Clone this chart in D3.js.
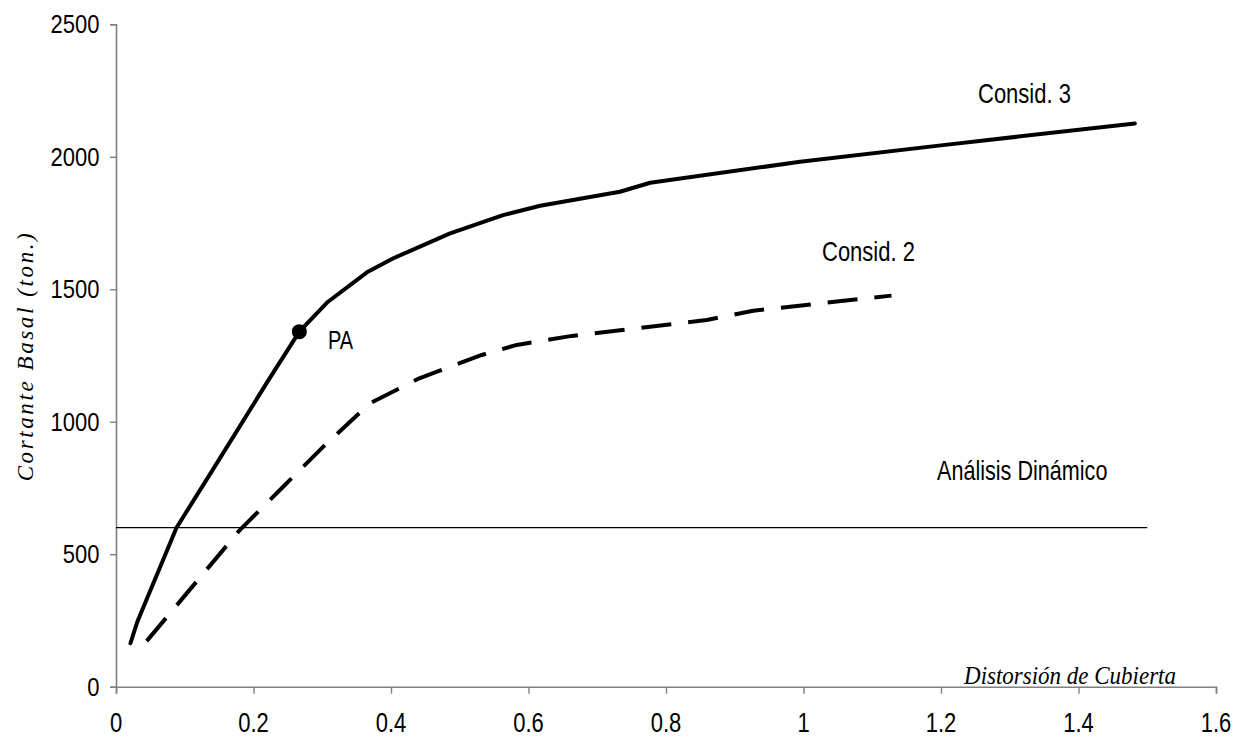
<!DOCTYPE html>
<html>
<head>
<meta charset="utf-8">
<script src="https://cdn.jsdelivr.net/npm/d3@7"></script>
<style>
  html, body { margin: 0; padding: 0; background: #fff; }
  svg { display: block; }
  .sans { font-family: "Liberation Sans", Arial, sans-serif; fill: #000; }
  .serif { font-family: "Liberation Serif", "Times New Roman", serif; font-style: italic; fill: #000; }
</style>
</head>
<body>
<svg id="chart" width="1235" height="740"></svg>
<script>
// Pushover curves: drift (x) vs base shear in tons (y)
const consid3X = [0.021, 0.031, 0.088, 0.142, 0.222, 0.2667, 0.308, 0.365, 0.4035, 0.486, 0.563, 0.617, 0.733, 0.777, 0.995, 1.203, 1.482];
const consid3Y = [164, 245, 600, 824, 1158, 1340, 1452, 1564, 1617, 1711, 1780, 1815, 1868, 1902, 1981, 2044, 2126];

const consid2X = [0.0446, 0.18, 0.241, 0.3016, 0.3695, 0.442, 0.532, 0.583, 0.663, 0.859, 0.927, 1.128];
const consid2Y = [172, 591, 749, 906, 1070, 1165, 1252, 1290, 1324, 1384, 1419, 1476];

// Dynamic analysis base shear level
const dynamicX = [0, 1.5];
const dynamicY = [600, 600];

// Performance point
const paX = [0.2667];
const paY = [1340];

const xTicks = [0, 0.2, 0.4, 0.6, 0.8, 1, 1.2, 1.4, 1.6];
const xTickLabels = ["0", "0.2", "0.4", "0.6", "0.8", "1", "1.2", "1.4", "1.6"];
const yTicks = [0, 500, 1000, 1500, 2000, 2500];
const yTickLabels = ["0", "500", "1000", "1500", "2000", "2500"];

const svg = d3.select("#chart");

const x = d3.scaleLinear().domain([0, 1.6]).range([116, 1216]);
const y = d3.scaleLinear().domain([0, 2500]).range([686.7, 24.3]);

const axisColor = "#808080";

// Axes
const xAxis = svg.append("g").attr("transform", `translate(0,${y(0)})`)
  .call(d3.axisBottom(x).tickValues(xTicks).tickSize(7).tickFormat(""));
const yAxis = svg.append("g").attr("transform", `translate(${x(0)},0)`)
  .call(d3.axisLeft(y).tickValues(yTicks).tickSize(6).tickFormat(""));
[xAxis, yAxis].forEach(g => {
  g.select(".domain").attr("stroke", axisColor).attr("stroke-width", 1.6);
  g.selectAll(".tick line").attr("stroke", axisColor).attr("stroke-width", 1.4);
});

// Text helper: glyphs are drawn slightly stretched vertically
function stretchedText(parent, px, py, str, opts) {
  const g = parent.append("g").attr("transform", `translate(${px},${py}) scale(1,${opts.sy || 1})`);
  return g.append("text")
    .attr("class", opts.cls || "sans")
    .attr("font-size", opts.size)
    .attr("text-anchor", opts.anchor || "start")
    .text(str);
}

xTicks.forEach((v, i) => {
  stretchedText(svg, x(v), 732, xTickLabels[i], { size: 22, sy: 1.22, anchor: "middle" });
});
yTicks.forEach((v, i) => {
  stretchedText(svg, 99.5, y(v) + 9, yTickLabels[i], { size: 22, sy: 1.15, anchor: "end" });
});

// Axis titles
svg.append("text")
  .attr("class", "serif")
  .attr("font-size", 23)
  .attr("letter-spacing", 2.6)
  .attr("text-anchor", "middle")
  .attr("transform", `translate(33,356) rotate(-90)`)
  .text("Cortante Basal (ton.)");

stretchedText(svg, 1176, 684, "Distorsión de Cubierta", { cls: "serif", size: 23, sy: 1.1, anchor: "end" });

// Dynamic analysis line
const line = d3.line().x(d => x(d[0])).y(d => y(d[1]));
svg.append("path")
  .datum(d3.zip(dynamicX, dynamicY))
  .attr("d", line)
  .attr("fill", "none")
  .attr("stroke", "#000")
  .attr("stroke-width", 1.2);

// Consid. 2 (dashed)
svg.append("path")
  .datum(d3.zip(consid2X, consid2Y))
  .attr("d", line)
  .attr("fill", "none")
  .attr("stroke", "#000")
  .attr("stroke-width", 4)
  .attr("stroke-dasharray", "30,17")
  .attr("stroke-linejoin", "round");

// Consid. 3 (solid)
svg.append("path")
  .datum(d3.zip(consid3X, consid3Y))
  .attr("d", line)
  .attr("fill", "none")
  .attr("stroke", "#000")
  .attr("stroke-width", 4)
  .attr("stroke-linecap", "round")
  .attr("stroke-linejoin", "round");

// Performance point marker
svg.selectAll("circle.pa")
  .data(d3.zip(paX, paY))
  .join("circle")
  .attr("class", "pa")
  .attr("cx", d => x(d[0]))
  .attr("cy", d => y(d[1]))
  .attr("r", 7.5)
  .attr("fill", "#000");

// Annotations
stretchedText(svg, 328, 349, "PA", { size: 20, sy: 1.3 });
stretchedText(svg, 978, 103, "Consid. 3", { size: 22, sy: 1.25 });
stretchedText(svg, 822, 261, "Consid. 2", { size: 22, sy: 1.25 });
stretchedText(svg, 937, 480, "Análisis Dinámico", { size: 21.6, sy: 1.3 });
</script>
</body>
</html>
